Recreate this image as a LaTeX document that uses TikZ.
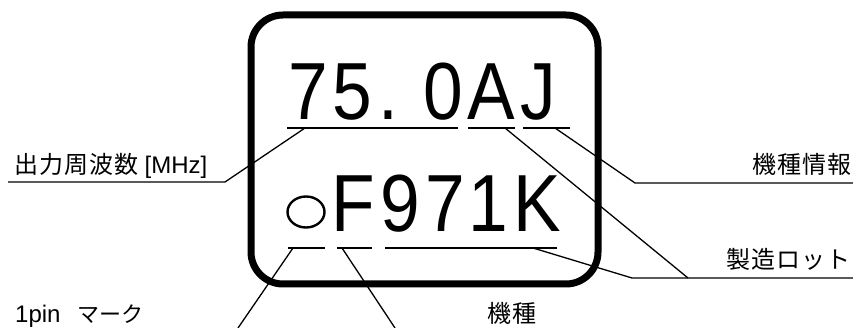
\documentclass[tikz,border=0pt]{standalone}
\usepackage{fontspec}
\usepackage{graphicx}
\usetikzlibrary{shapes.geometric}
\setmainfont{Liberation Sans}
\newfontfamily\jp{Noto Sans CJK JP}
\newfontfamily\jpsp[LetterSpace=4]{Noto Sans CJK JP}
\newcommand\bigch[1]{\scalebox{0.88}[1]{#1}}
\begin{document}
\begin{tikzpicture}[x=1pt,y=-1pt,
  big/.style={inner sep=0pt,anchor=base,font=\fontsize{81}{81}\selectfont},
  lbl/.style={inner sep=0pt,font=\fontsize{24}{26}\selectfont},
  jpf/.style={font=\fontsize{24}{26}\selectfont\jpsp},
  uline/.style={line width=1.2pt},
  leader/.style={line width=1.3pt},
  frame/.style={line width=7pt,rounded corners=32pt}]
\useasboundingbox (0,0) rectangle (853,328);
% frame
\draw[frame] (251,15) rectangle (598,284);
% top row
\node[big] (c7) at (308,120) {\bigch{7}};
\node[big] (c5) at (352,120) {\bigch{5}};
\node[big] (cdot) at (388,120) {\bigch{.}};
\node[big] (c0) at (443,120) {\bigch{0}};
\node[big] (cA) at (491,120) {\bigch{A}};
\node[big] (cJ) at (538,120) {\bigch{J}};
% bottom row
\node[draw,ellipse,line width=2.4pt,minimum width=37pt,minimum height=31pt,inner sep=0pt] (pin) at (306,212) {};
\node[big] (cF) at (353,232) {\bigch{F}};
\node[big] (c9) at (400,232) {\bigch{9}};
\node[big] (c7b) at (445,232) {\bigch{7}};
\node[big] (c1) at (488,232) {\bigch{1}};
\node[big] (cK) at (537,232) {\bigch{K}};
% underlines
\coordinate (u1a) at (287,128); \coordinate (u1b) at (458,128);
\coordinate (u2a) at (468,128); \coordinate (u2b) at (515,128);
\coordinate (u3a) at (523,128); \coordinate (u3b) at (570,128);
\coordinate (u4a) at (288,248); \coordinate (u4b) at (325,248);
\coordinate (u5a) at (337,248); \coordinate (u5b) at (372,248);
\coordinate (u6a) at (385,248); \coordinate (u6b) at (557,248);
\draw[uline] (u1a) -- (u1b);
\draw[uline] (u2a) -- (u2b);
\draw[uline] (u3a) -- (u3b);
\draw[uline] (u4a) -- (u4b);
\draw[uline] (u5a) -- (u5b);
\draw[uline] (u6a) -- (u6b);
% labels
\node[lbl,anchor=base west] (freq) at (14,174) {{\jpsp 出力周波数} [MHz]};
\node[lbl,anchor=base west] (pinl) at (15,322) {1pin\hspace{17pt}{\fontsize{22}{24}\selectfont\jp マーク}};
\node[lbl,jpf,anchor=base west] (kishu) at (487,322) {機種};
\node[lbl,jpf,anchor=base east] (kinfo) at (852,174) {機種情報};
\node[lbl,jpf,anchor=base east] (lot) at (851,269) {製造ロット};
% leader anchor points
\coordinate (f0) at (305,128); \coordinate (f1) at (225,182); \coordinate (f2) at (8,182);
\coordinate (j0) at (555,128); \coordinate (j1) at (635,183); \coordinate (j2) at (853,183);
\coordinate (a0) at (505,128); \coordinate (a1) at (688,278);
\coordinate (k0) at (533,248); \coordinate (k1) at (632,278); \coordinate (k2) at (853,278);
\coordinate (p0) at (293,248); \coordinate (p1) at (238,328);
\coordinate (m0) at (342,248); \coordinate (m1) at (395,328);
\draw[leader] (f0) -- (f1) -- (f2);
\draw[leader] (j0) -- (j1) -- (j2);
\draw[leader] (a0) -- (a1);
\draw[leader] (k0) -- (k1) -- (k2);
\draw[leader] (p0) -- (p1);
\draw[leader] (m0) -- (m1);
\end{tikzpicture}
\end{document}
